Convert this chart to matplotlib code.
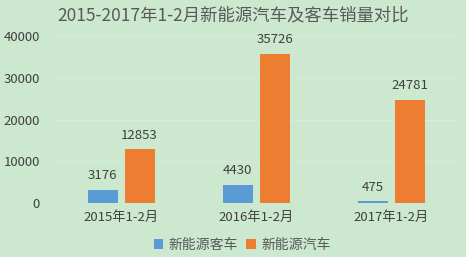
import matplotlib
matplotlib.use('Agg')
import matplotlib.pyplot as plt
import numpy as np

plt.rcParams['font.family'] = ['Noto Sans CJK SC', 'DejaVu Sans']

categories = ['2015年1-2月', '2016年1-2月', '2017年1-2月']
bus = [3176, 4430, 475]
cars = [12853, 35726, 24781]
series_names = ['新能源客车', '新能源汽车']

bg = '#cce8cf'
txt = '#404040'

fig = plt.figure(figsize=(4.66, 2.57), dpi=100, facecolor=bg)
ax = fig.add_axes([0.115, 0.21, 0.869, 0.65], facecolor=bg)

x = np.arange(len(categories))
w = 0.222
off = 0.137
b1 = ax.bar(x - off, bus, w, color='#5b9bd5', label=series_names[0])
b2 = ax.bar(x + off, cars, w, color='#ed7d31', label=series_names[1])

for bars, vals in ((b1, bus), (b2, cars)):
    for r, v in zip(bars, vals):
        ax.text(r.get_x() + r.get_width() / 2, v + 1800, str(v),
                ha='center', va='bottom', fontsize=9.5, color=txt)

ax.set_xlim(-0.5, 2.5)
ax.set_ylim(0, 40000)
ax.set_yticks([0, 10000, 20000, 30000, 40000])
ax.set_xticks(x)
ax.set_xticklabels(categories)
ax.tick_params(length=0, labelsize=9.5, colors=txt)
ax.tick_params(axis='y', pad=10)
ax.tick_params(axis='x', pad=6)
ax.grid(axis='y', color='#d6ecd8', linewidth=0.8)
ax.set_axisbelow(True)
for s in ax.spines.values():
    s.set_visible(False)

fig.suptitle('2015-2017年1-2月新能源汽车及客车销量对比', y=0.975, fontsize=12.5, color='#595959')
fig.legend(loc='lower center', bbox_to_anchor=(0.52, -0.03), ncol=2, frameon=False,
           fontsize=10, handlelength=0.7, handleheight=0.7, handletextpad=0.4,
           columnspacing=0.6, labelcolor='#595959')

fig.savefig('out.png', dpi=100, facecolor=bg)
